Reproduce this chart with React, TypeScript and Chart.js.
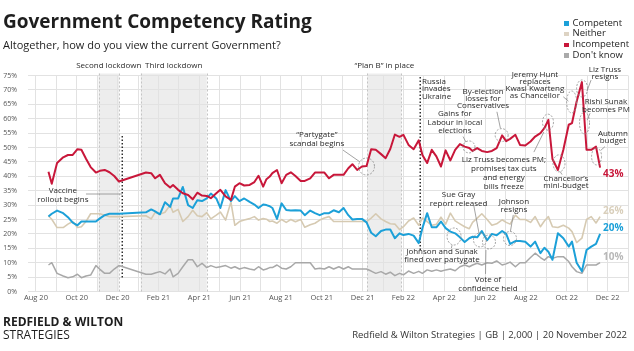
import React, { useEffect, useRef } from "react";
import { Chart, registerables } from "chart.js";

Chart.register(...registerables);

const FONT = '"Open Sans", "DejaVu Sans", sans-serif';

const TITLE = "Government Competency Rating";
const SUBTITLE = "Altogether, how do you view the current Government?";
const SOURCE = "Redfield & Wilton Strategies | GB | 2,000 | 20 November 2022";

const POLL_DATES = [
  "2020-08-20","2020-08-25","2020-09-02","2020-09-11","2020-09-18","2020-09-25","2020-10-02","2020-10-08","2020-10-15","2020-10-22","2020-10-30","2020-11-05","2020-11-12","2020-11-19","2020-11-26","2020-12-03",
  "2021-01-13","2021-01-21","2021-01-27","2021-02-03","2021-02-10","2021-02-17","2021-02-21","2021-02-28","2021-03-07","2021-03-15","2021-03-22","2021-03-29","2021-04-05","2021-04-12","2021-04-18","2021-04-26","2021-05-02","2021-05-10","2021-05-18","2021-05-24","2021-05-31","2021-06-07","2021-06-15","2021-06-22","2021-06-28","2021-07-05","2021-07-10","2021-07-15",
  "2021-07-19","2021-07-26","2021-08-02","2021-08-09","2021-08-16","2021-08-23","2021-08-31","2021-09-06","2021-09-14","2021-09-21","2021-09-28","2021-10-05","2021-10-12","2021-10-19","2021-10-27","2021-11-03","2021-11-10","2021-11-16","2021-11-23","2021-11-30","2021-12-07","2021-12-14","2021-12-21","2021-12-29","2022-01-05","2022-01-12",
  "2022-01-19","2022-01-26","2022-02-01","2022-02-08","2022-02-15","2022-02-22","2022-02-27","2022-03-06","2022-03-13","2022-03-20","2022-03-27","2022-04-03","2022-04-10","2022-04-17","2022-04-24","2022-05-01","2022-05-08","2022-05-13","2022-05-20","2022-05-27","2022-06-04","2022-06-11","2022-06-18","2022-06-26","2022-07-02","2022-07-08","2022-07-16","2022-07-23","2022-07-31","2022-08-08","2022-08-15","2022-08-23","2022-08-29","2022-09-04","2022-09-10","2022-09-18","2022-09-26","2022-10-04","2022-10-09","2022-10-16","2022-10-24","2022-10-31","2022-11-07","2022-11-14","2022-11-20",
];

const COMPETENT = [
  26.0,27.0,28.1,27.2,25.8,23.9,23.0,24.3,24.3,24.3,24.3,25.4,26.5,27.0,27.0,27.0,
  27.5,28.5,27.8,26.8,31.0,29.4,32.3,32.3,36.3,30.0,29.0,31.7,31.4,32.3,34.0,32.3,29.0,35.2,31.4,33.1,31.4,32.3,31.1,30.2,29.0,30.2,30.0,29.6,
  29.0,25.2,30.6,28.3,28.1,28.2,28.1,26.5,28.1,27.2,26.5,27.2,27.2,28.2,27.5,29.0,26.5,25.0,25.2,25.2,24.0,20.4,19.2,21.0,21.5,21.5,
  18.5,20.2,19.6,20.0,19.4,16.8,22.0,27.2,22.3,22.3,24.3,22.0,20.8,20.2,18.8,17.2,18.5,19.0,18.8,21.0,17.8,20.0,19.5,21.0,20.0,16.5,17.5,17.5,17.3,15.6,17.3,13.3,15.2,13.8,11.0,20.2,18.5,15.6,17.3,10.0,7.0,14.4,15.6,16.5,20,
];

const NEITHER = [
  26.2,25.1,22.2,22.2,23.4,24.3,22.2,22.5,24.3,27.0,27.0,27.0,26.5,26.0,26.0,26.0,
  26.3,25.2,27.5,26.8,27.5,30.0,27.5,28.5,24.3,26.0,28.2,26.3,26.0,27.4,25.2,26.5,27.6,24.8,31.1,23.0,24.3,24.8,25.3,26.0,24.8,25.3,25.1,24.3,
  24.5,23.7,25.0,24.0,25.0,24.2,25.0,22.3,23.2,23.7,24.8,25.5,26.0,24.3,24.3,24.3,24.3,24.3,24.3,24.3,24.3,25.5,27.0,25.2,24.3,23.5,
  23.4,21.5,22.5,24.5,25.5,23.0,25.5,24.3,23.0,23.3,25.8,23.4,27.2,24.5,23.5,22.5,21.8,24.0,25.5,27.0,25.0,23.0,23.5,24.9,24.0,23.4,26.5,25.0,25.0,24.0,26.0,22.5,24.5,26.0,22.5,22.2,23.0,22.0,20.8,17.0,18.5,25.0,26.0,23.8,26,
];

const INCOMPETENT = [
  41.6,37.4,44.6,46.6,47.4,47.4,49.4,49.2,46.1,43.2,41.3,41.9,42.2,41.4,40.1,38.2,
  41.3,41.1,39.3,40.5,37.6,36.1,37.0,35.3,34.1,33.5,32.0,34.3,33.3,33.2,32.4,34.1,35.3,33.0,31.8,36.4,37.6,36.8,37.0,38.0,40.2,36.4,39.0,39.9,
  41.1,42.2,37.6,40.5,41.4,40.1,38.4,38.4,39.3,41.3,41.3,41.3,39.3,40.5,40.5,40.5,42.8,44.2,42.2,43.4,43.6,49.4,49.2,47.7,46.3,49.5,
  54.5,53.7,54.4,50.9,49.4,52.5,47.4,44.6,49.2,46.9,43.4,49.0,45.5,49.2,51.2,50.3,49.8,48.8,49.8,48.8,48.4,48.8,49.8,54.2,52.2,53.0,54.4,50.9,50.7,52.1,53.8,55.0,56.7,59.6,46.0,42.2,49.2,57.9,58.5,66.0,72.7,49.2,49.2,50.3,43,
];

const DONT_KNOW = [
  9.2,10.0,6.3,5.4,4.8,5.1,6.0,4.8,5.4,5.7,9.0,7.7,6.3,6.3,7.8,9.0,
  6.0,6.0,6.4,6.9,6.1,7.8,5.1,6.3,8.6,11.0,11.0,8.6,9.8,8.3,9.0,8.3,8.6,9.0,8.1,8.6,7.8,8.3,7.8,7.5,8.6,7.5,7.8,8.3,
  8.3,9.2,8.1,7.8,8.6,10.0,10.0,10.0,10.0,7.8,8.1,7.8,8.6,7.8,8.6,7.8,8.6,7.8,7.8,7.8,7.8,7.1,6.3,6.9,6.0,6.7,
  5.5,6.3,5.8,7.1,6.3,7.0,6.3,7.5,7.0,7.5,7.0,7.5,7.8,7.2,8.6,9.2,8.6,9.2,9.8,9.2,10.0,9.8,10.6,9.2,9.6,10.2,8.6,10.0,10.0,11.8,13.3,11.8,10.9,12.1,11.5,12.1,12.1,10.4,8.6,6.9,6.3,9.2,9.2,9.2,10,
];

// x-axis tick labels, one every two months starting Aug 2020
const X_TICK_LABELS = ["Aug 20","Oct 20","Dec 20","Feb 21","Apr 21","Jun 21","Aug 21","Oct 21","Dec 21","Feb 22","Apr 22","Jun 22","Aug 22","Oct 22","Dec 22"];

const SERIES_NAMES = ["Competent", "Neither", "Incompetent", "Don't know"];
const SERIES_VALUES = [COMPETENT, NEITHER, INCOMPETENT, DONT_KNOW];
const SERIES_COLORS = ["#1ca0d8", "#d6cab2", "#c8173a", "#a8a8a8"];
const LEGEND_COLORS = ["#1ca0d8", "#ddd3c3", "#c8173a", "#aaaaaa"];
const END_LABEL_COLORS = ["#1ca0d8", "#d9cfbb", "#c8173a", "#b8b8b8"];
const SERIES_WIDTHS = [2, 1.6, 2, 1.5];
const SERIES_ORDER = [1, 2, 0, 3];
const END_LABEL_DY = [-6, -5.5, 6.5, -5.7];

const PERIODS = [
  { label: "Second lockdown", start: "2020-11-03", end: "2020-12-03" },
  { label: "Third lockdown", start: "2021-01-05", end: "2021-04-12" },
  { label: "\u201cPlan B\u201d in place", start: "2021-12-08", end: "2022-01-29" },
];

const EVENT_LINES = [
  { date: "2020-12-08", from: 4.5, to: 54 },
  { date: "2022-02-24", from: 14, to: 74.5 },
];

// annotation anchors in data units (x: months since Aug 2020, y: %)
const ANNOTATIONS = [
  { lines: ["Vaccine", "rollout begins"], x: 1.32, y: 34.9, lh: 9, align: "center", leader: [2.45, 33.85, 4.21, 33.85] },
  { lines: ["\u201cPartygate\u201d", "scandal begins"], x: 13.76, y: 54.6, lh: 9.5, align: "center", leader: [15.04, 49.1, 15.87, 45.0], circle: [16.19, 43.4, 8, 8.5] },
  { lines: ["Russia", "invades", "Ukraine"], x: 18.91, y: 72.9, lh: 7.6, align: "left" },
  { lines: ["By-election", "losses for", "Conservatives"], x: 21.9, y: 69.5, lh: 7.3, align: "center", leader: [22.58, 62.4, 22.75, 56.7], circle: [22.81, 54.3, 6.5, 6.5] },
  { lines: ["Gains for", "Labour in local", "elections"], x: 20.52, y: 61.8, lh: 8.8, align: "center", leader: [20.92, 53.8, 21.06, 51.9], circle: [21.21, 50.2, 6, 6] },
  { lines: ["Jeremy Hunt", "replaces", "Kwasi Kwarteng", "as Chancellor"], x: 24.44, y: 75.2, lh: 7, align: "center", leader: [25.83, 67.6, 26.08, 66.1], circle: [26.24, 65.8, 5, 11] },
  { lines: ["Liz Truss", "resigns"], x: 27.87, y: 76.9, lh: 6.8, align: "center", leader: [26.99, 69.6, 27.19, 73.4], circle: [26.75, 70.5, 5.5, 8.5] },
  { lines: ["Rishi Sunak", "becomes PM"], x: 27.92, y: 65.9, lh: 7.6, align: "center", leader: [27.14, 61.9, 27.0, 59.5], circle: [26.87, 58.5, 5, 11] },
  { lines: ["Autumn", "budget"], x: 28.26, y: 54.9, lh: 7, align: "center", leader: [27.87, 50.3, 27.68, 49.1], circle: [27.46, 46.9, 5, 8.5] },
  { lines: ["Liz Truss becomes PM;", "promises tax cuts", "and energy", "bills freeze"], x: 22.92, y: 45.7, lh: 8.8, align: "center", leader: [24.39, 48.4, 24.88, 55.4], circle: [25.08, 58.8, 5.5, 8] },
  { lines: ["Chancellor\u2019s", "mini-budget"], x: 25.96, y: 39.3, lh: 7.7, align: "center", leader: [25.67, 41.7, 25.77, 40.6], circle: [25.62, 44.5, 6, 8.5] },
  { lines: ["Sue Gray", "report released"], x: 20.7, y: 33.5, lh: 9, align: "center", leader: [21.45, 29.7, 21.7, 20.3], circle: [21.75, 17.9, 6.5, 7] },
  { lines: ["Johnson", "resigns"], x: 23.41, y: 31.2, lh: 8.3, align: "center", leader: [23.38, 26.6, 23.24, 20.9], circle: [23.22, 18.4, 6.5, 7] },
  { lines: ["Johnson and Sunak", "fined over partygate"], x: 19.89, y: 13.8, lh: 7.8, align: "center", leader: [20.38, 16.1, 20.35, 15.1], circle: [20.48, 19.1, 7, 8.5] },
  { lines: ["Vote of", "confidence held"], x: 22.14, y: 4.0, lh: 8.3, align: "center", leader: [22.04, 14.4, 22.02, 6.1], circle: [22.19, 17.2, 6.5, 7] },
];

function monthPos(d: string): number {
  const [y, m, day] = d.split("-").map(Number);
  const dim = new Date(y, m, 0).getDate();
  return (y - 2020) * 12 + (m - 8) + (day - 1) / dim;
}

const shadePlugin = {
  id: "shade",
  beforeDraw(chart: any) {
    const { ctx, chartArea: ca, scales } = chart;
    const x = scales.x;
    ctx.save();
    ctx.fillStyle = "#ededed";
    PERIODS.forEach((p) => {
      const x0 = x.getPixelForValue(monthPos(p.start));
      const x1 = x.getPixelForValue(monthPos(p.end));
      ctx.fillRect(x0, ca.top - 2, x1 - x0, ca.bottom - ca.top + 2);
    });
    ctx.restore();
  },
  beforeDatasetsDraw(chart: any) {
    const { ctx, chartArea: ca, scales } = chart;
    const x = scales.x;
    const y = scales.y;
    ctx.save();
    ctx.strokeStyle = "#c4c4c4";
    ctx.lineWidth = 1;
    ctx.setLineDash([2, 2]);
    PERIODS.forEach((p) => {
      [p.start, p.end].forEach((d) => {
        const px = Math.round(x.getPixelForValue(monthPos(d))) + 0.5;
        ctx.beginPath();
        ctx.moveTo(px, ca.top - 2);
        ctx.lineTo(px, ca.bottom);
        ctx.stroke();
      });
    });
    ctx.setLineDash([]);
    ctx.fillStyle = "#2a2a2a";
    ctx.font = `8px ${FONT}`;
    ctx.textAlign = "center";
    ctx.textBaseline = "middle";
    PERIODS.forEach((p) => {
      const x0 = x.getPixelForValue(monthPos(p.start));
      const x1 = x.getPixelForValue(monthPos(p.end));
      ctx.fillText(p.label, (x0 + x1) / 2, ca.top - 9.5);
    });
    // event lines
    ctx.strokeStyle = "#111";
    ctx.lineWidth = 1.3;
    ctx.setLineDash([1.5, 2]);
    EVENT_LINES.forEach((e) => {
      const px = x.getPixelForValue(monthPos(e.date));
      ctx.beginPath();
      ctx.moveTo(px, y.getPixelForValue(e.to));
      ctx.lineTo(px, y.getPixelForValue(e.from));
      ctx.stroke();
    });
    ctx.restore();
  },
  afterDatasetsDraw(chart: any) {
    const { ctx, scales } = chart;
    const x = scales.x;
    const y = scales.y;
    ctx.save();
    ANNOTATIONS.forEach((a: any) => {
      ctx.strokeStyle = "#8c8c8c";
      ctx.lineWidth = 0.8;
      if (a.leader) {
        ctx.setLineDash([]);
        ctx.beginPath();
        ctx.moveTo(x.getPixelForValue(a.leader[0]), y.getPixelForValue(a.leader[1]));
        ctx.lineTo(x.getPixelForValue(a.leader[2]), y.getPixelForValue(a.leader[3]));
        ctx.stroke();
      }
      if (a.circle) {
        ctx.setLineDash([2, 1.5]);
        ctx.beginPath();
        ctx.ellipse(x.getPixelForValue(a.circle[0]), y.getPixelForValue(a.circle[1]), a.circle[2], a.circle[3], 0, 0, Math.PI * 2);
        ctx.stroke();
      }
      ctx.setLineDash([]);
      ctx.fillStyle = "#2a2a2a";
      ctx.font = `8px ${FONT}`;
      ctx.textAlign = a.align;
      ctx.textBaseline = "middle";
      const px = x.getPixelForValue(a.x);
      const py = y.getPixelForValue(a.y);
      a.lines.forEach((t: string, i: number) => ctx.fillText(t, px, py + i * a.lh));
    });
    // end labels
    ctx.font = `bold 10px ${FONT}`;
    ctx.textAlign = "left";
    ctx.textBaseline = "middle";
    chart.data.datasets.forEach((ds: any, i: number) => {
      const last = ds.data[ds.data.length - 1];
      ctx.fillStyle = END_LABEL_COLORS[i];
      ctx.fillText(`${Math.round(last.y)}%`, x.getPixelForValue(last.x) + 3, y.getPixelForValue(last.y) + END_LABEL_DY[i]);
    });
    ctx.restore();
  },
};

export default function App() {
  const ref = useRef<HTMLCanvasElement | null>(null);

  useEffect(() => {
    if (!ref.current) return;
    const xs = POLL_DATES.map(monthPos);
    const chart = new Chart(ref.current, {
      type: "line",
      data: {
        datasets: SERIES_NAMES.map((name, i) => ({
          label: name,
          data: xs.map((x, j) => ({ x, y: SERIES_VALUES[i][j] })),
          borderColor: SERIES_COLORS[i],
          backgroundColor: SERIES_COLORS[i],
          borderWidth: SERIES_WIDTHS[i],
          pointRadius: 0,
          tension: 0,
          borderJoinStyle: "round",
          order: SERIES_ORDER[i],
        })),
      },
      options: {
        animation: false,
        responsive: false,
        maintainAspectRatio: false,
        layout: { padding: { top: 75.5, left: 0, right: 6, bottom: 39.5 } },
        plugins: { legend: { display: false }, tooltip: { enabled: false }, title: { display: false } },
        scales: {
          x: {
            type: "linear",
            min: -0.39,
            max: 29,
            afterBuildTicks: (s: any) => {
              const ticks: any[] = [];
              for (let v = Math.ceil(s.min); v <= Math.floor(s.max); v++) ticks.push({ value: v });
              s.ticks = ticks;
            },
            afterFit: (s: any) => {
              s.height = 20;
            },
            ticks: {
              stepSize: 1,
              autoSkip: false,
              maxRotation: 0,
              minRotation: 0,
              padding: 2,
              color: "#555",
              font: { family: FONT, size: 7.5 },
              callback: (v: any) => {
                const n = Math.round(Number(v));
                return n % 2 === 0 && n >= 0 ? X_TICK_LABELS[n / 2] ?? "" : "";
              },
            },
            grid: { color: "#e2e2e2", drawTicks: false, lineWidth: 1 },
            border: { display: false },
          },
          y: {
            min: 0,
            max: 75,
            afterFit: (s: any) => {
              s.width = 28;
            },
            ticks: {
              stepSize: 5,
              padding: 11,
              color: "#555",
              font: { family: FONT, size: 7 },
              callback: (v: any) => `${v}%`,
            },
            grid: { color: "#e2e2e2", drawTicks: false, lineWidth: 1 },
            border: { display: false },
          },
        },
      },
      plugins: [shadePlugin],
    });
    return () => chart.destroy();
  }, []);

  return (
    <div style={{ position: "fixed", left: 0, top: 0, width: 634, height: 351, background: "#fff", overflow: "hidden", fontFamily: FONT }}>
      <canvas ref={ref} width={634} height={351} style={{ position: "absolute", left: 0, top: 0, width: 634, height: 351 }} />
      <div style={{ position: "absolute", left: 3, top: 12, fontSize: 19, lineHeight: "19px", fontWeight: 700, color: "#1e1e1e", whiteSpace: "nowrap" }}>{TITLE}</div>
      <div style={{ position: "absolute", left: 3, top: 38.5, fontSize: 11, lineHeight: "11px", color: "#1e1e1e", whiteSpace: "nowrap" }}>{SUBTITLE}</div>
      {SERIES_NAMES.map((name, i) => (
        <React.Fragment key={name}>
          <div style={{ position: "absolute", left: 564, top: 21 + i * 10.8, width: 4.5, height: 4.5, background: LEGEND_COLORS[i] }} />
          <div style={{ position: "absolute", left: 572.5, top: 17.6 + i * 10.8, fontSize: 9.5, lineHeight: "10.8px", color: "#1e1e1e", whiteSpace: "nowrap" }}>{name}</div>
        </React.Fragment>
      ))}
      <div style={{ position: "absolute", left: 3, top: 316, fontSize: 12, lineHeight: "12px", fontWeight: 700, color: "#1e1e1e", whiteSpace: "nowrap" }}>REDFIELD &amp; WILTON</div>
      <div style={{ position: "absolute", left: 3, top: 328.6, fontSize: 12, lineHeight: "12px", color: "#1e1e1e", whiteSpace: "nowrap" }}>STRATEGIES</div>
      <div style={{ position: "absolute", right: 7, top: 330.3, fontSize: 9.5, lineHeight: "10px", color: "#333", whiteSpace: "nowrap" }}>{SOURCE}</div>
    </div>
  );
}
